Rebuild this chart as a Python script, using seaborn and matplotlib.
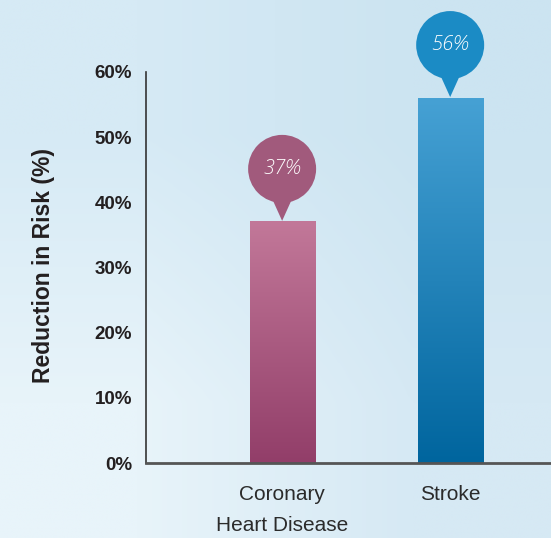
import numpy as np
import matplotlib
matplotlib.use("Agg")
import matplotlib.pyplot as plt
import matplotlib.transforms as mtransforms
from matplotlib.colors import LinearSegmentedColormap
from matplotlib.patches import Circle, Polygon
import seaborn as sns
import pandas as pd

# Data
categories = ["Coronary\nHeart Disease", "Stroke"]
reduction = [37, 56]
value_labels = ["37%", "56%"]
y_ticks = [0, 10, 20, 30, 40, 50, 60]
y_tick_labels = ["0%", "10%", "20%", "30%", "40%", "50%", "60%"]

# Colours: gradient top/bottom for each bar, and the callout fill
bar_top = ["#c27899", "#46a1d4"]
bar_bottom = ["#923e69", "#00659e"]
callout_colors = ["#a15a7c", "#1b8bc5"]

sns.set_theme(style="white")
plt.rcParams["font.family"] = ["Liberation Sans", "DejaVu Sans"]

W, H, DPI = 551, 538, 100
fig = plt.figure(figsize=(W / DPI, H / DPI), dpi=DPI)

# Soft diagonal background gradient
bg = fig.add_axes([0, 0, 1, 1], zorder=0)
corners = np.array([[[0xd6, 0xea, 0xf5], [0xcc, 0xe4, 0xf1]],
                    [[0xe8, 0xf4, 0xfa], [0xd6, 0xe9, 0xf4]]]) / 255.0
bg.imshow(corners, interpolation="bilinear", aspect="auto", extent=[0, 1, 0, 1], origin="upper")
bg.set_axis_off()

ax = fig.add_axes([146 / W, 1 - 463 / H, 1 - 146 / W, (463 - 72) / H], zorder=1)
ax.patch.set_alpha(0)

df = pd.DataFrame({"category": categories, "reduction": reduction})
sns.barplot(data=df, x="category", y="reduction", ax=ax, width=0.387,
            color="#888888", saturation=1, errorbar=None)

# Replace flat fills with vertical gradients
grad = np.linspace(0, 1, 256).reshape(-1, 1)
for i, p in enumerate(ax.patches):
    x0, w, h = p.get_x(), p.get_width(), p.get_height()
    cmap = LinearSegmentedColormap.from_list(f"g{i}", [bar_bottom[i], bar_top[i]])
    ax.imshow(grad, extent=[x0, x0 + w, 0, h], origin="lower", aspect="auto",
              cmap=cmap, zorder=2)
    p.set_visible(False)

ax.set_xlim(-0.81, 1.60)
ax.set_ylim(0, 60)
ax.set_yticks(y_ticks)
ax.set_yticklabels(y_tick_labels)

# Speech-bubble callouts above each bar
for i, (val, lab) in enumerate(zip(reduction, value_labels)):
    tr = fig.dpi_scale_trans + mtransforms.ScaledTranslation(i, val, ax.transData)
    circ = Circle((0, 0.53), 0.34, transform=tr, facecolor=callout_colors[i],
                  edgecolor="none", clip_on=False, zorder=3)
    tri = Polygon([(-0.14, 0.32), (0.14, 0.32), (0, 0.01)], closed=True, transform=tr,
                  facecolor=callout_colors[i], edgecolor="none", clip_on=False, zorder=3)
    ax.add_patch(circ)
    ax.add_patch(tri)
    ax.text(0, 0.53, lab, transform=tr, ha="center", va="center", color="white",
            fontsize=14.5, style="italic", family=["Open Sans", "DejaVu Sans"],
            weight="light", zorder=4, clip_on=False)

# Axes styling
sns.despine(ax=ax, top=True, right=True)
ax.spines["left"].set_color("#333333")
ax.spines["left"].set_linewidth(1.2)
ax.spines["bottom"].set_color("#555555")
ax.spines["bottom"].set_linewidth(2)
ax.tick_params(axis="y", length=0, pad=10, labelsize=13.5, labelcolor="#231f20")
ax.tick_params(axis="x", length=0, pad=16, labelsize=15, labelcolor="#2b2b2b")
for t in ax.get_yticklabels():
    t.set_fontweight("bold")
for t in ax.get_xticklabels():
    t.set_linespacing(1.78)
ax.set_xlabel("")
ax.set_ylabel("")
ax.grid(False)

fig.text(44 / W, 1 - 266 / H, "Reduction in Risk (%)", rotation=90, ha="center",
         va="center", fontsize=16.5, fontweight="bold", color="#231f20")

fig.savefig("out.png", dpi=DPI)
